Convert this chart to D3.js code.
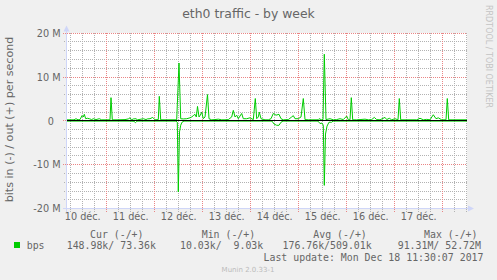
<!DOCTYPE html>
<html><head><meta charset="utf-8">
<script src="https://cdn.jsdelivr.net/npm/d3@7"></script>
<style>
html,body{margin:0;padding:0;background:#F0F0F0;}
svg{display:block;}
text{white-space:pre;}
</style>
</head><body>
<script>
// ---- data (hours after 10 déc. 00:00, values in millions of bits/s) ----
const outHours = [4.15,5.65,7.65,8.65,9.65,10.65,11.65,12.3,12.8,13.5,14.3,15.3,16.5,17.3,18.65,20.3,21.5,23.15,25.65,26.15,26.8,29.65,33.15,34.8,35.65,36.5,37.3,38.65,39.3,40.65,42.3,43.65,44.3,45.65,47,48.15,49.8,50.3,51,55.65,59,60.15,61,62.3,64,65.65,66.5,67.3,68.15,68.8,69.4,70.15,70.8,71.5,72.3,73.15,74.4,75.15,76.5,78.15,79.8,81.5,83.15,84.8,86.5,87.3,88.15,89,89.8,91.5,92.3,94,95.65,97.3,98.3,99,99.8,100.3,101.15,103.15,104.8,106.15,107.3,108.65,110.15,111.15,112.3,114.8,116.5,117.3,118.15,119.8,121.15,122.3,123.15,124.8,129.65,130.15,131.5,132.15,132.8,133.65,135.65,137.3,139,140.65,142.3,144,144.8,145.65,146.3,147,149,150.65,153.15,154.8,156.5,157.8,159,160.65,163.15,164,165.3,166.5,168.15,169.65,170.3,171,175.65,179,180.65,182.3,184,185.65,187.3,188.65,189.8,191.5,193.65,194.3,195,198.15,204.15];
const outValues = [0.25,0.25,0.25,0.5,0.25,0.3,1.2,0.9,1.5,0.5,0.6,0.5,0.3,0.5,0.3,0.5,0.25,0.25,0.25,5.3,0.25,0.25,0.3,0.45,0.7,0.25,0.45,0.5,0.25,0.35,0.5,0.3,0.45,0.5,0.8,0.25,0.3,5.6,0.25,0.25,0.25,13.2,0.5,0.45,0.5,0.7,0.9,1.2,1.5,0.9,3.3,0.9,1.3,2.0,0.5,0.9,6.0,0.5,0.25,0.3,0.4,0.25,0.25,0.3,0.9,2.4,0.9,1.3,0.5,1.7,0.5,0.5,0.7,0.3,5.1,0.5,0.9,2.0,0.5,0.25,0.25,0.5,1.7,1.3,1.5,0.5,0.25,0.3,0.9,1.2,0.5,0.5,0.9,5.1,0.3,0.25,0.25,0.5,0.25,0.3,15.2,0.3,0.5,0.25,0.3,0.5,0.3,1.1,0.25,0.25,5.3,0.25,0.25,0.3,0.4,0.25,0.3,0.8,0.3,0.25,0.8,0.3,0.6,0.25,0.5,0.25,5.1,0.25,0.25,0.25,0.6,0.25,0.35,0.25,1.4,0.5,0.7,0.25,0.25,5.1,0.25,0.25,0.25];
const inHours = [4.15,35.65,37.65,38.4,39.15,58.65,59.3,59.8,60.4,61,61.65,62.65,106.65,107.65,109,110.15,111.15,112.15,129.65,130.65,131.65,132.3,132.8,133.4,134.15,135.15,136.5,137.15,204.15];
const inValues = [-0.05,-0.05,-0.1,-0.4,-0.05,-0.05,-0.3,-16.2,-2.5,-1.0,-0.3,-0.05,-0.05,-0.7,-1.0,-1.0,-0.3,-0.05,-0.05,-0.6,-0.5,-1.0,-14.7,-3.0,-1.2,-0.3,-0.3,-0.05,-0.05];

const yMajorTicks = [-20,-10,0,10,20];
const yTickLabels = ["-20 M","-10 M","0","10 M","20 M"];
const yMinorTicks = [-18,-16,-14,-12,-8,-6,-4,-2,2,4,6,8,12,14,16,18];
const dayLabels = ["10 déc.","11 déc.","12 déc.","13 déc.","14 déc.","15 déc.","16 déc.","17 déc."];

const legendHeaders = ["Cur (-/+)","Min (-/+)","Avg (-/+)","Max (-/+)"];
const seriesName = "bps";
const legendValues = ["148.98k/ 73.36k","10.03k/  9.03k","176.76k/509.01k","91.31M/ 52.72M"];
const lastUpdate = "Last update: Mon Dec 18 11:30:07 2017";

// ---- layout ----
const W = 497, H = 280;
const L = 67, R = 467, T = 33.2, B = 208.6;
const base = Date.UTC(2017, 11, 10);
const t = h => new Date(base + h * 3600e3);

const svg = d3.select("body").append("svg").attr("width", W).attr("height", H);
svg.append("rect").attr("width", W).attr("height", H).attr("fill", "#F0F0F0");

const x = d3.scaleUtc().domain([t(4.15), t(204.15)]).range([L, R]);
const y = d3.scaleLinear().domain([-20, 20]).range([B, T]);
const px = v => Math.floor(v) + 0.5;

// canvas
svg.append("rect").attr("x", L).attr("y", 33).attr("width", R - L).attr("height", 176).attr("fill", "#FFFFFF");

const grid = svg.append("g").attr("stroke-dasharray", "1,1").attr("stroke-width", 1)
  .attr("fill", "none").attr("shape-rendering", "crispEdges");
const minorCol = "#B2B2B2", majorCol = "#EA8585";
// minor vertical (6h)
const minorTimes = d3.utcHour.every(6).range(x.domain()[0], x.domain()[1]).filter(d => d.getUTCHours() !== 0);
grid.selectAll("line.vmin").data(minorTimes).join("line")
  .attr("x1", d => px(x(d))).attr("x2", d => px(x(d))).attr("y1", 33).attr("y2", 212)
  .attr("stroke", minorCol);
// minor horizontal
grid.selectAll("line.hmin").data(yMinorTicks).join("line")
  .attr("x1", 64).attr("x2", R).attr("y1", d => px(y(d))).attr("y2", d => px(y(d)))
  .attr("stroke", minorCol);
// major vertical (days)
const dayTimes = d3.utcDay.range(x.domain()[0], x.domain()[1]);
grid.selectAll("line.vmaj").data(dayTimes).join("line")
  .attr("x1", d => px(x(d))).attr("x2", d => px(x(d))).attr("y1", 33).attr("y2", 212)
  .attr("stroke", majorCol);
// major horizontal
grid.selectAll("line.hmaj").data(yMajorTicks).join("line")
  .attr("x1", 63).attr("x2", R).attr("y1", d => px(y(d))).attr("y2", d => px(y(d)))
  .attr("stroke", majorCol);

// axes lines + arrows
const axisCol = "#CFD6F8";
svg.append("line").attr("x1", 66.5).attr("x2", 66.5).attr("y1", 29).attr("y2", 212).attr("stroke", axisCol);
svg.append("line").attr("x1", 63).attr("x2", 470).attr("y1", 208.5).attr("y2", 208.5).attr("stroke", axisCol);
svg.append("path").attr("d", "M63.5,31.5 L69.5,31.5 L66.5,25.5 Z").attr("fill", axisCol);
svg.append("path").attr("d", "M468,205.5 L468,211.5 L474,208.5 Z").attr("fill", axisCol);

// data lines
const line = d3.line().x(d => x(t(d[0]))).y(d => y(d[1]));
const inData = inHours.map((h, i) => [h, inValues[i]]);
const outData = outHours.map((h, i) => [h, outValues[i]]);
svg.append("path").datum(inData).attr("d", line).attr("fill", "none").attr("stroke", "#00CC00").attr("stroke-width", 1);
svg.append("path").datum(outData).attr("d", line).attr("fill", "none").attr("stroke", "#00CC00").attr("stroke-width", 1);
// zero rule
svg.append("line").attr("x1", L).attr("x2", R).attr("y1", px(y(0))).attr("y2", px(y(0)))
  .attr("stroke", "#000000").attr("stroke-width", 1);

// tick labels
const fontSans = "DejaVu Sans, sans-serif";
const fontMono = "DejaVu Sans Mono, monospace";
const textCol = "#666666";
svg.selectAll("text.ylab").data(yMajorTicks).join("text")
  .attr("x", (d, i) => yTickLabels[i].includes("M") ? 60.5 : 54)
  .attr("y", d => y(d) + 3.6)
  .attr("text-anchor", "end").attr("font-family", fontSans).attr("font-size", 9.7).attr("fill", textCol)
  .text((d, i) => yTickLabels[i]);

svg.selectAll("text.xlab").data(dayLabels).join("text")
  .attr("x", (d, i) => x(t(12 + 24 * i)))
  .attr("y", 220)
  .attr("text-anchor", "middle").attr("font-family", fontSans).attr("font-size", 9.7).attr("fill", textCol)
  .text(d => d);

// title
svg.append("text").attr("x", 248.5).attr("y", 18).attr("text-anchor", "middle")
  .attr("font-family", fontSans).attr("font-size", 12.4).attr("fill", textCol).text("eth0 traffic - by week");

// vertical axis title
svg.append("text").attr("transform", "translate(13,119.5) rotate(-90)").attr("text-anchor", "middle")
  .attr("font-family", fontSans).attr("font-size", 11.1).attr("fill", textCol).text("bits in (-) / out (+) per second");

// watermark right
svg.append("text").attr("transform", "translate(486,5) rotate(90)").attr("text-anchor", "start")
  .attr("font-family", fontSans).attr("font-size", 8).attr("fill", "#C4C4C4").text("RRDTOOL / TOBI OETIKER");

// legend
const headX = [90, 201.7, 313.3, 424];
svg.selectAll("text.lh").data(legendHeaders).join("text")
  .attr("x", (d, i) => headX[i]).attr("y", 237.5)
  .attr("font-family", fontMono).attr("font-size", 9.9).attr("fill", textCol).text(d => d);
svg.append("rect").attr("x", 14).attr("y", 242).attr("width", 6).attr("height", 6).attr("fill", "#00CC00");
svg.append("text").attr("x", 26.7).attr("y", 249.2).attr("font-family", fontMono).attr("font-size", 9.9).attr("fill", textCol).text(seriesName);
const valX = [66.7, 180, 282.5, 397.7];
svg.selectAll("text.lv").data(legendValues).join("text")
  .attr("x", (d, i) => valX[i]).attr("y", 249.2)
  .attr("font-family", fontMono).attr("font-size", 9.9).attr("fill", textCol).text(d => d);
svg.append("text").attr("x", 483.5).attr("y", 261).attr("text-anchor", "end")
  .attr("font-family", fontMono).attr("font-size", 9.9).attr("fill", textCol).text(lastUpdate);

svg.append("text").attr("x", 248).attr("y", 272).attr("text-anchor", "middle")
  .attr("font-family", fontSans).attr("font-size", 7).attr("fill", "#BBBBBB").text("Munin 2.0.33-1");
</script>
</body></html>
